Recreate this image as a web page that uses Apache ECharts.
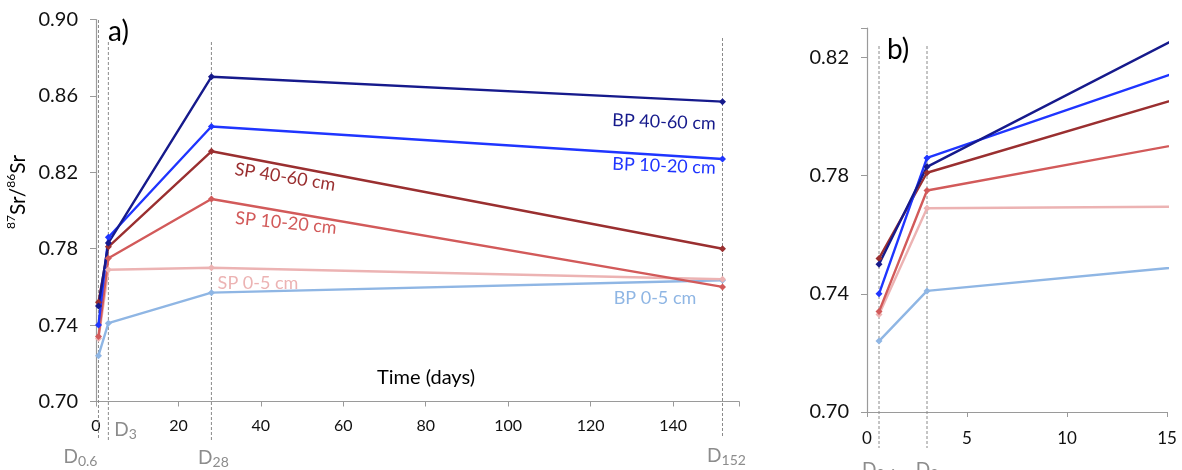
<!DOCTYPE html>
<html><head><meta charset="utf-8">
<script src="https://cdn.jsdelivr.net/npm/echarts@6/dist/echarts.min.js"></script>
<style>html,body{margin:0;padding:0;background:#fff}#c{width:1182px;height:470px}</style>
</head><body><div id="c"></div>
<script>
// ---- data ----
const days = [0.6, 3, 28, 152];
const bp4060 = [0.750, 0.783, 0.870, 0.857];
const bp1020 = [0.740, 0.786, 0.844, 0.827];
const sp4060 = [0.752, 0.781, 0.831, 0.780];
const sp1020 = [0.734, 0.775, 0.806, 0.760];
const sp05   = [0.733, 0.769, 0.770, 0.764];
const bp05   = [0.724, 0.741, 0.757, 0.7635];
const seriesNames = ['BP 0-5 cm', 'SP 0-5 cm', 'SP 10-20 cm', 'SP 40-60 cm', 'BP 10-20 cm', 'BP 40-60 cm'];
const markerDays = [0.6, 3, 28, 152];
const markerSubs = ['0.6', '3', '28', '152'];
const markerDaysB = [0.6, 3];
const markerSubsB = ['0.6', '3'];

// ---- styling ----
const FONT = 'Lato';
const seriesValues = [bp05, sp05, sp1020, sp4060, bp1020, bp4060];
const seriesColors = ['#8fb6e4', '#ecb3b3', '#d25a5a', '#9a2f30', '#1f35ff', '#161a8c'];
const AX = '#9a9a9a';

const chart = echarts.init(document.getElementById('c'), null, {renderer: 'canvas'});

const series = [];
[0, 1].forEach(g => {
  seriesValues.forEach((vals, i) => {
    series.push({
      type: 'line', name: seriesNames[i], xAxisIndex: g, yAxisIndex: g,
      data: days.map((d, k) => [d, vals[k]]),
      symbol: 'diamond', symbolSize: 7, showSymbol: true,
      lineStyle: {width: 2.4, color: seriesColors[i]},
      itemStyle: {color: seriesColors[i]},
      silent: true, animation: false, clip: true
    });
  });
});

function xAxisDef(g, max, interval, fs, margin) {
  return {
    type: 'value', gridIndex: g, min: 0, max: max, interval: interval,
    axisLine: {show: true, onZero: false, lineStyle: {color: AX, width: 1.2}},
    axisTick: {show: true, length: 5, lineStyle: {color: AX}},
    splitLine: {show: false},
    axisLabel: {fontFamily: FONT, fontSize: fs, color: '#111', margin: margin,
      formatter: v => (Math.abs(v / interval - Math.round(v / interval)) < 1e-6 ? String(v) : '')}
  };
}
function yAxisDef(g, max) {
  return {
    type: 'value', gridIndex: g, min: 0.70, max: max, interval: 0.04,
    axisLine: {show: true, lineStyle: {color: AX, width: 1.2}},
    axisTick: {show: true, length: 6, lineStyle: {color: AX}},
    splitLine: {show: false},
    axisLabel: {fontFamily: FONT, fontSize: 20, color: '#111', margin: 18,
      formatter: v => {
        const k = (v - 0.70) / 0.04;
        return Math.abs(k - Math.round(k)) < 1e-6 ? v.toFixed(2) : '';
      }}
  };
}

chart.setOption({
  animation: false,
  backgroundColor: '#fff',
  grid: [
    {left: 96, top: 19.5, width: 643, height: 382},
    {left: 867, top: 28, width: 300, height: 384}
  ],
  xAxis: [xAxisDef(0, 156, 20, 16, 16), xAxisDef(1, 15, 5, 17, 18)],
  yAxis: [yAxisDef(0, 0.90), yAxisDef(1, 0.83)],
  series: series
});

function px(g, x, y) { return chart.convertToPixel({xAxisIndex: g, yAxisIndex: g}, [x, y]); }

const graphics = [];
// dashed day markers
const dashA = [[20, 440], [42, 440], [42, 440], [38, 438]];
markerDays.forEach((d, i) => {
  const x = px(0, d, 0.8)[0];
  graphics.push({type: 'line', silent: true, z: 1,
    shape: {x1: x, y1: dashA[i][0], x2: x, y2: dashA[i][1]},
    style: {stroke: '#8a8a8a', lineWidth: 1, lineDash: [3, 2]}});
});
markerDaysB.forEach(d => {
  const x = px(1, d, 0.8)[0];
  graphics.push({type: 'line', silent: true, z: 1,
    shape: {x1: x, y1: 46, x2: x, y2: 448},
    style: {stroke: '#8a8a8a', lineWidth: 1, lineDash: [3, 2]}});
});
// D labels
const dRich = {d: {fontFamily: FONT, fontSize: 19, fill: '#8c8c8c', lineHeight: 22},
               s: {fontFamily: FONT, fontSize: 14, fill: '#8c8c8c', verticalAlign: 'bottom', lineHeight: 16}};
const dPosA = [{dx: -1, y: 457, align: 'right'}, {dx: 6, y: 430, align: 'left'},
               {dx: 2, y: 458, align: 'center'}, {dx: 4, y: 456, align: 'center'}];
markerDays.forEach((d, i) => {
  const x = px(0, d, 0.8)[0];
  graphics.push({type: 'text', silent: true, x: x + dPosA[i].dx, y: dPosA[i].y,
    style: {text: '{d|D}{s|' + markerSubs[i] + '}', rich: dRich, align: dPosA[i].align, verticalAlign: 'middle'}});
});
markerDaysB.forEach((d, i) => {
  const x = px(1, d, 0.8)[0];
  graphics.push({type: 'text', silent: true, x: x, y: 470,
    style: {text: '{d|D}{s|' + markerSubsB[i] + '}', rich: dRich, align: 'center', verticalAlign: 'middle'}});
});
// panel letters, axis titles
graphics.push({type: 'text', silent: true, x: 108, y: 32,
  style: {text: 'a)', fontFamily: FONT, fontSize: 28, fill: '#000', align: 'left', verticalAlign: 'middle'}});
graphics.push({type: 'text', silent: true, x: 887, y: 50,
  style: {text: 'b)', fontFamily: FONT, fontSize: 28, fill: '#000', align: 'left', verticalAlign: 'middle'}});
graphics.push({type: 'text', silent: true, x: 426, y: 378,
  style: {text: 'Time (days)', fontFamily: FONT, fontSize: 20, fill: '#000', align: 'center', verticalAlign: 'middle'}});
graphics.push({type: 'text', silent: true, x: 18, y: 192, rotation: Math.PI / 2,
  style: {text: '{p|87}{n|Sr/}{p|86}{n|Sr}', align: 'center', verticalAlign: 'middle',
    rich: {p: {fontFamily: FONT, fontSize: 12, fill: '#000', verticalAlign: 'top', lineHeight: 12},
           n: {fontFamily: FONT, fontSize: 21, fill: '#000', lineHeight: 26}}}});
// series labels
const labelDefs = [
  {i: 5, x: 664, y: 122, r: -0.035},
  {i: 4, x: 664, y: 166, r: -0.04},
  {i: 3, x: 285, y: 177, r: -0.16},
  {i: 2, x: 286, y: 223, r: -0.1},
  {i: 1, x: 258, y: 283, r: 0},
  {i: 0, x: 655, y: 298, r: 0}
];
labelDefs.forEach(l => {
  graphics.push({type: 'text', silent: true, x: l.x, y: l.y, rotation: l.r,
    style: {text: seriesNames[l.i], fontFamily: FONT, fontSize: 18, fill: seriesColors[l.i],
      align: 'center', verticalAlign: 'middle'}});
});
chart.setOption({graphic: graphics});
</script>
</body></html>
